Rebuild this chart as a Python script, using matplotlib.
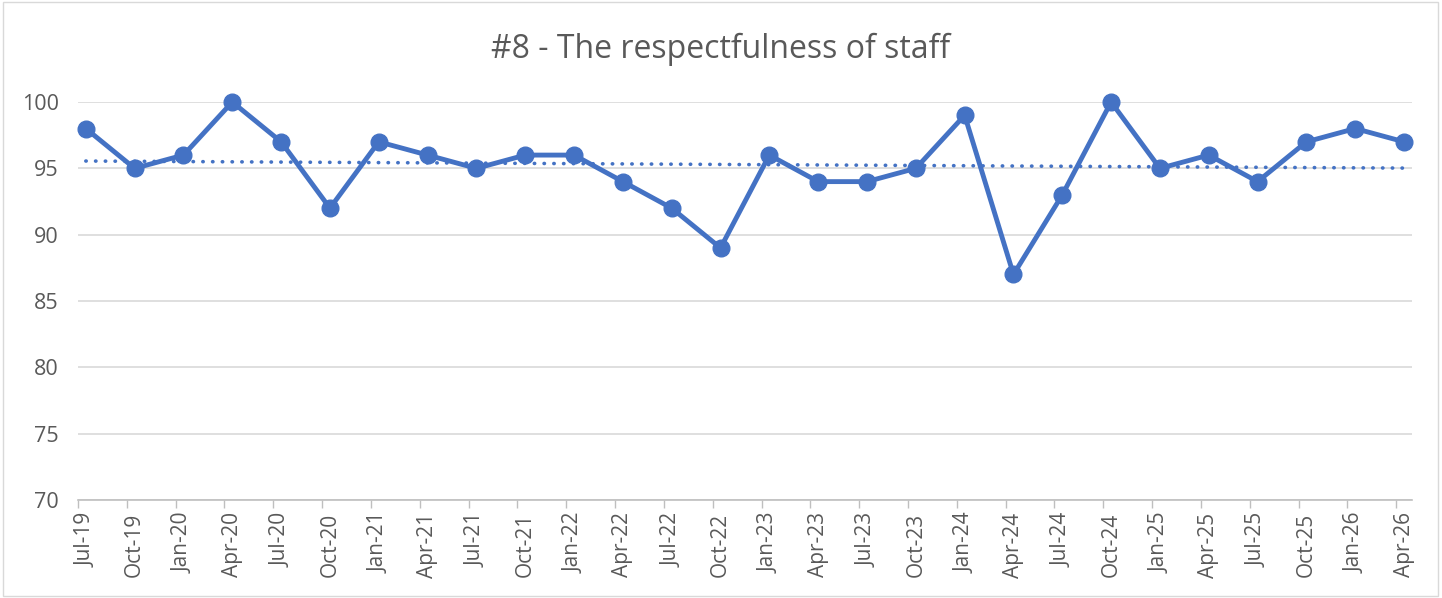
import numpy as np
import matplotlib
matplotlib.use('Agg')
import matplotlib.pyplot as plt
from matplotlib.patches import Rectangle

quarters = ['Jul-19', 'Oct-19', 'Jan-20', 'Apr-20', 'Jul-20', 'Oct-20', 'Jan-21',
            'Apr-21', 'Jul-21', 'Oct-21', 'Jan-22', 'Apr-22', 'Jul-22', 'Oct-22',
            'Jan-23', 'Apr-23', 'Jul-23', 'Oct-23', 'Jan-24', 'Apr-24', 'Jul-24',
            'Oct-24', 'Jan-25', 'Apr-25', 'Jul-25', 'Oct-25', 'Jan-26', 'Apr-26']
scores = [98, 95, 96, 100, 97, 92, 97, 96, 95, 96, 96, 94, 92, 89,
          96, 94, 94, 95, 99, 87, 93, 100, 95, 96, 94, 97, 98, 97]
y_ticks = [70, 75, 80, 85, 90, 95, 100]

blue = '#4472C4'
plt.rcParams['font.family'] = ['Open Sans', 'DejaVu Sans']

def main():
    fig = plt.figure(figsize=(14.42, 5.98), dpi=100)
    fig.patches.append(Rectangle((0.002, 0.003), 0.995, 0.994, transform=fig.transFigure,
                                 fill=False, edgecolor='#D9D9D9', linewidth=1))
    ax = fig.add_axes([0.0541, 0.1639, 0.9250, 0.6655])

    x = np.arange(len(scores))
    ax.plot(x, scores, color=blue, linewidth=3.5, marker='o', markersize=12,
            solid_joinstyle='round', zorder=3, clip_on=False)

    # linear trendline
    k, b = np.polyfit(x, scores, 1)
    ax.plot(x, k * x + b, color=blue, linewidth=2.6, linestyle=(0, (0.1, 2.6)),
            dash_capstyle='round', zorder=2)

    off = 0.16
    ax.set_xlim(-off, len(scores) - 1 + off)
    ax.set_ylim(70, 100)
    ax.set_yticks(y_ticks)
    ax.yaxis.grid(True, color='#D9D9D9', linewidth=1.2)
    ax.set_axisbelow(True)

    ax.set_xticks(x)
    ax.set_xticklabels(quarters, rotation=90)
    ax.set_xticks(x - off, minor=True)
    ax.tick_params(axis='x', which='major', length=0, pad=9, labelsize=15, labelcolor='#595959')
    ax.tick_params(axis='x', which='minor', length=6, color='#BFBFBF', width=1)
    ax.tick_params(axis='y', length=0, pad=14, labelsize=15.5, labelcolor='#595959')

    for s in ['left', 'right', 'top']:
        ax.spines[s].set_visible(False)
    ax.spines['bottom'].set_color('#BFBFBF')
    ax.spines['bottom'].set_linewidth(1.2)

    fig.text(0.5, 0.918, '#8 - The respectfulness of staff', ha='center', va='center',
             fontsize=23, color='#595959')

    fig.savefig('out.png', dpi=100)

main()
